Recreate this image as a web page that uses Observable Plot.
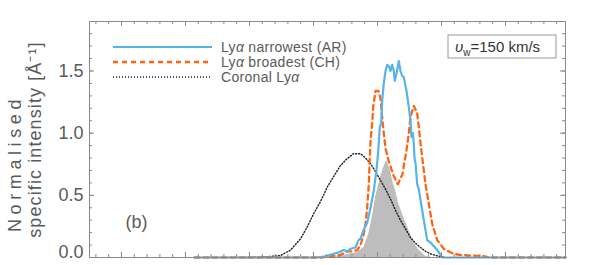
<!DOCTYPE html>
<html><head><meta charset="utf-8">
<script src="https://cdn.jsdelivr.net/npm/d3@7"></script>
<script src="https://cdn.jsdelivr.net/npm/@observablehq/plot@0.6"></script>
<style>
body{margin:0;background:#fff}
svg{font-family:"Liberation Sans",Arial,sans-serif}
</style>
</head><body><div id="chart"></div>
<script>
// ---- data (x in arbitrary wavelength units, y normalised intensity) ----
const narrowX = [1.141,2.797,3.047,3.188,3.313,3.391,3.469,3.531,3.578,3.656,3.703,3.734,3.781,3.839,3.891,3.942,3.984,4.0,4.016,4.036,4.058,4.073,4.098,4.125,4.152,4.177,4.203,4.230,4.255,4.270,4.297,4.333,4.359,4.386,4.411,4.453,4.489,4.516,4.531,4.552,4.567,4.578,4.594,4.620,4.645,4.698,4.75,4.777,4.828,4.933,5.011,6.9375];
const narrowY = [0,0,0,0.01,0.03,0.04,0.06,0.05,0.07,0.08,0.14,0.15,0.22,0.28,0.40,0.54,0.70,0.79,0.89,1.05,1.08,1.26,1.40,1.50,1.55,1.54,1.50,1.55,1.50,1.42,1.48,1.58,1.50,1.46,1.45,1.34,1.21,1.10,0.97,1.00,0.92,0.80,0.76,0.59,0.55,0.38,0.22,0.14,0.12,0.06,0,0];

const broadX = [1.141,3.109,3.266,3.422,3.527,3.609,3.683,3.734,3.781,3.813,3.839,3.864,3.880,3.891,3.917,3.933,3.969,4.016,4.047,4.073,4.098,4.125,4.172,4.250,4.317,4.391,4.422,4.453,4.489,4.516,4.567,4.620,4.645,4.683,4.75,4.802,4.855,4.933,5.036,5.188,5.297,5.656,5.766,6.9375];
const broadY = [0,0,0.01,0.02,0.05,0.05,0.06,0.10,0.18,0.27,0.40,0.59,0.81,0.94,1.08,1.21,1.34,1.34,1.28,1.13,1.00,0.88,0.78,0.66,0.59,0.67,0.77,0.86,1.00,1.13,1.22,1.16,1.05,0.87,0.59,0.43,0.27,0.14,0.07,0.03,0.02,0.01,0,0];

const coronalX = [1.9375,2.172,2.484,2.641,2.797,2.906,3.0,3.109,3.214,3.313,3.422,3.516,3.625,3.734,3.813,3.891,3.969,4.047,4.125,4.203,4.281,4.359,4.438,4.516,4.594,4.672,4.75,4.828,4.922,5.031];
const coronalY = [0,0.003,0.015,0.06,0.15,0.25,0.35,0.45,0.565,0.65,0.74,0.79,0.835,0.835,0.80,0.755,0.69,0.62,0.55,0.47,0.38,0.30,0.23,0.16,0.115,0.08,0.05,0.03,0.015,0.005];

const fillX = [3.266,3.422,3.578,3.683,3.786,3.864,3.917,3.969,4.016,4.047,4.094,4.141,4.172,4.203,4.234,4.281,4.333,4.411,4.489,4.567,4.645,4.75,4.828];
const fillY = [0,0.01,0.03,0.04,0.08,0.19,0.32,0.48,0.58,0.645,0.72,0.78,0.74,0.70,0.62,0.54,0.43,0.32,0.22,0.12,0.06,0.01,0];

const yTickLabels = [0.5, 1.0, 1.5];
const yZeroLabel = [0];
const legendLabels = ["Ly\u03b1 narrowest (AR)", "Ly\u03b1 broadest (CH)", "Coronal Ly\u03b1"];
const speedLabel = "\u03c5w=150 km/s";

// ---- layout ----
const W = 598, H = 265, mL = 89, mR = 33, mT = 21, mB = 8;
const fw = W - mL - mR, fh = H - mT - mB;
const rows = (xs, ys) => xs.map((x, i) => ({x, y: ys[i]}));
const narrow = rows(narrowX, narrowY), broad = rows(broadX, broadY);
const coronal = rows(coronalX, coronalY), filled = rows(fillX, fillY);

const xMinor = d3.range(-2, 35).map(i => +(i * 0.2).toFixed(2));
const xMajor = d3.range(0, 7);
const yMinor = d3.range(1, 19).map(i => +(i / 10).toFixed(2));
const yMajor = [0.5, 1.0, 1.5];
const axCol = "#8a8a8a", txtCol = "#5a5a5a";
const txt = {textAnchor: "middle", lineAnchor: "middle", fill: txtCol};

const plot = Plot.plot({
  width: W, height: H,
  marginLeft: mL, marginRight: mR, marginTop: mT, marginBottom: mB,
  style: {color: txtCol, background: "#fff"},
  x: {domain: [-0.5, 6.9375], axis: null},
  y: {domain: [0, 1.898], axis: null},
  marks: [
    Plot.areaY(filled, {x: "x", y: "y", fill: "#bdbdbd"}),
    Plot.line(coronal, {x: "x", y: "y", stroke: "#1a1a1a", strokeWidth: 1.4, strokeDasharray: "1,2"}),
    Plot.line(broad, {x: "x", y: "y", stroke: "#ff6414", strokeWidth: 2.3, strokeDasharray: "5,4"}),
    Plot.line(narrow, {x: "x", y: "y", stroke: "#56b4e9", strokeWidth: 2.2}),
    Plot.frame({stroke: axCol}),
    Plot.tickX(xMinor, {x: d => d, insetTop: fh - 3, stroke: axCol}),
    Plot.tickX(xMinor, {x: d => d, insetBottom: fh - 3, stroke: axCol}),
    Plot.tickX(xMajor, {x: d => d, insetTop: fh - 5, stroke: axCol}),
    Plot.tickX(xMajor, {x: d => d, insetBottom: fh - 5, stroke: axCol}),
    Plot.tickY(yMinor, {y: d => d, insetRight: fw - 3, stroke: axCol}),
    Plot.tickY(yMinor, {y: d => d, insetLeft: fw - 3, stroke: axCol}),
    Plot.tickY(yMajor, {y: d => d, insetRight: fw - 5, stroke: axCol}),
    Plot.tickY(yMajor, {y: d => d, insetLeft: fw - 5, stroke: axCol}),
    Plot.axisY(yTickLabels, {label: null, tickSize: 0, tickPadding: 6, tickFormat: d3.format(".1f"), fontSize: 18, fill: txtCol}),
    Plot.axisY(yZeroLabel, {label: null, tickSize: 0, tickPadding: 6, tickFormat: d3.format(".1f"), fontSize: 18, fill: txtCol, dy: -5}),
    Plot.text(["Normalised"], {...txt, frameAnchor: "left", text: d => d, rotate: -90, dx: -74, dy: 24, fontSize: 18}),
    Plot.text(["specific intensity [\u00c5\u207b\u00b9]"], {...txt, frameAnchor: "left", text: d => d, rotate: -90, dx: -54, dy: 0, fontSize: 18}),
    Plot.text(["(b)"], {...txt, frameAnchor: "bottom-left", text: d => d, dx: 47, dy: -35, fontSize: 18}),
    Plot.text([speedLabel], {...txt, frameAnchor: "top-right", text: d => d, dx: -68, dy: 26, fontSize: 15, fill: "#333"})
  ]
});

const svg = d3.select(plot);
svg.selectAll("text").each(function() {
  const t = this.textContent;
  if (t === "Normalised") d3.select(this).attr("letter-spacing", "4.6px");
  if (t.startsWith("specific")) d3.select(this).attr("letter-spacing", "1.1px");
  if (t === speedLabel) {
    const s = d3.select(this); s.text("");
    s.append("tspan").attr("font-style", "italic").text("\u03c5");
    s.append("tspan").attr("font-size", 10).attr("dy", 4).text("w");
    s.append("tspan").attr("dy", -4).text("=150 km/s");
  }
});

// speed label box
svg.append("rect").attr("x", mL + 359).attr("y", mT + 14).attr("width", 108).attr("height", 23)
  .attr("fill", "none").attr("stroke", "#9a9a9a");

// legend
const leg = svg.append("g").attr("transform", `translate(${mL + 24},${mT + 26})`);
const legStyles = [
  {stroke: "#56b4e9", w: 2.2, dash: null},
  {stroke: "#ff6414", w: 2.3, dash: "5,4"},
  {stroke: "#1a1a1a", w: 1.4, dash: "1,2"}
];
legendLabels.forEach((lab, i) => {
  const g = leg.append("g").attr("transform", `translate(0,${i * 15})`);
  g.append("line").attr("x1", 0).attr("x2", 99).attr("stroke", legStyles[i].stroke)
    .attr("stroke-width", legStyles[i].w).attr("stroke-dasharray", legStyles[i].dash);
  const t = g.append("text").attr("x", 108).attr("dy", "0.35em").attr("font-size", 14)
    .attr("text-anchor", "start").attr("fill", txtCol).attr("letter-spacing", "0.3px");
  const parts = lab.split("\u03b1");
  t.append("tspan").text(parts[0]);
  t.append("tspan").attr("font-style", "italic").text("\u03b1");
  if (parts[1]) t.append("tspan").text(parts[1]);
});

document.getElementById("chart").appendChild(plot);
</script>
</body></html>
